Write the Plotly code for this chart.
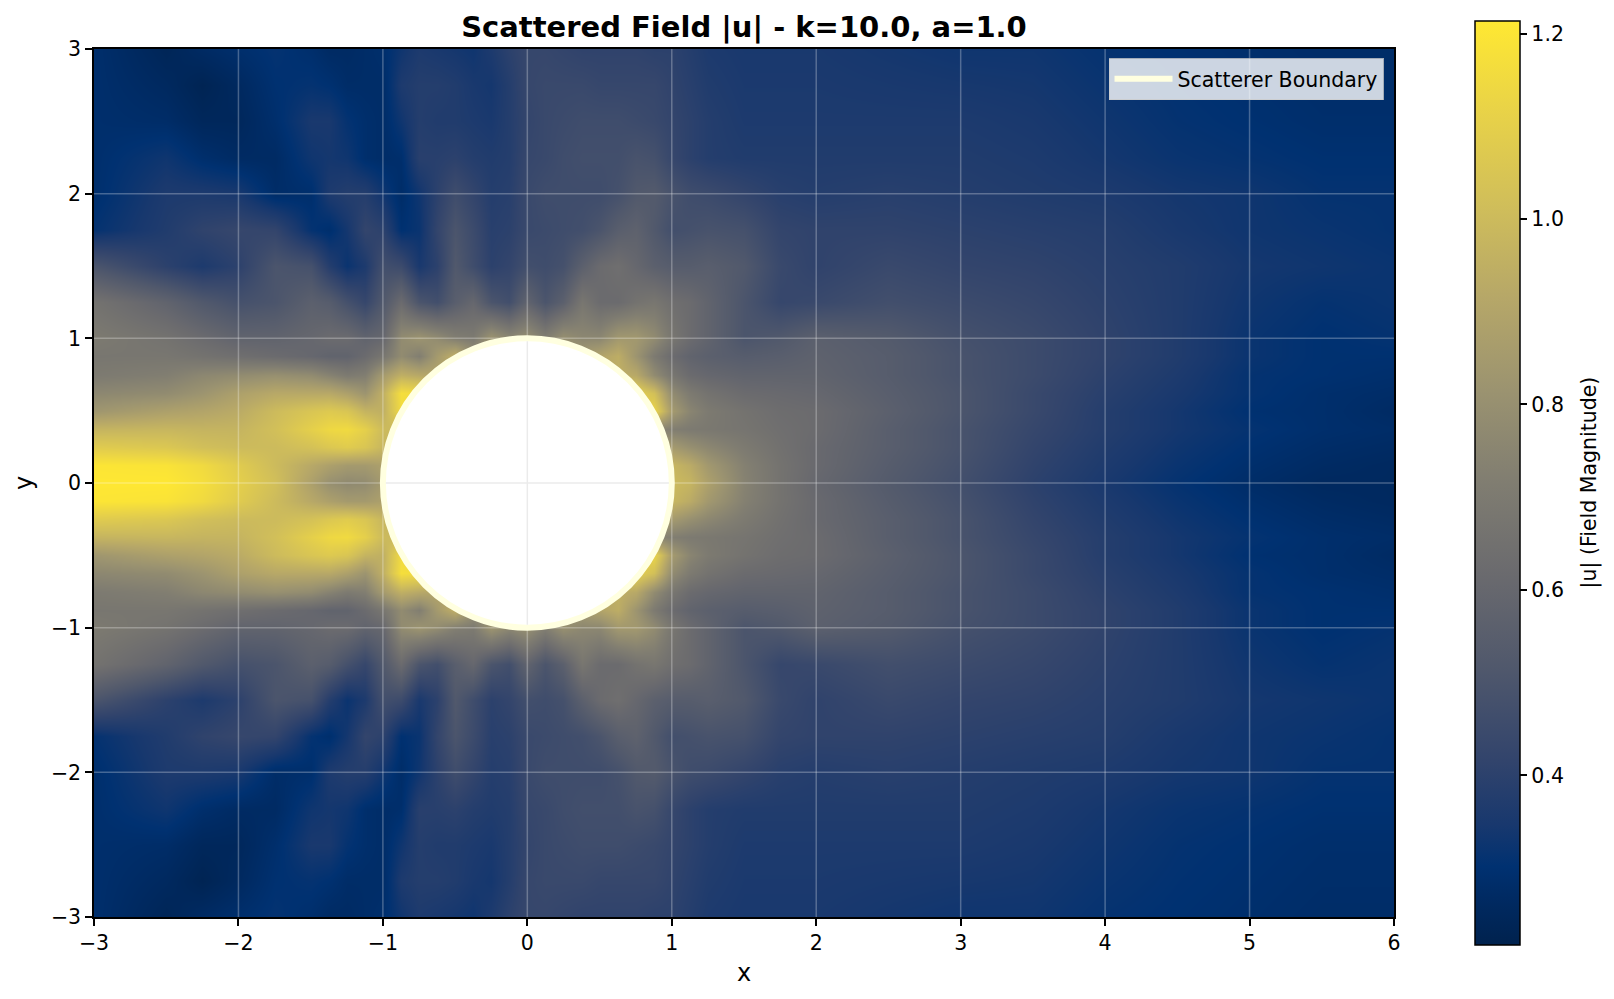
import plotly.graph_objects as go

# Field magnitude (upper half; the field is mirror symmetric about y=0)
x_nodes = [-3, -2.5, -2.25, -2, -1.75, -1.5, -1.375, -1.25, -1.125, -1, -0.875, -0.75, -0.625, -0.5, -0.375, -0.25,
           -0.125, 0, 0.125, 0.25, 0.375, 0.5, 0.625, 0.75, 0.875, 1, 1.125, 1.25, 1.5, 1.75, 2, 2.5, 3, 3.5, 4, 4.5, 5, 5.5, 6]
y_upper = [0, 0.125, 0.25, 0.375, 0.5, 0.625, 0.75, 0.875, 1, 1.25, 1.5, 1.75, 2, 2.25, 2.5, 2.75, 3]

u_y000 = [1.21, 1.21, 1.17, 1.10, 1.02, .88, .80, .77, .78, .85, .90, .90, .90, .90, .90, .90, .90, .90, .90, .90, .90, .90, .92, .95, 1.0, 1.0, .97, .88, .74, .66, .60, .53, .47, .40, .35, .31, .28, .26, .26]
u_y012 = [1.20, 1.19, 1.15, 1.08, 1.00, .92, .88, .85, .85, .88, .90, .90, .90, .90, .90, .90, .90, .90, .90, .90, .90, .90, .90, .92, .97, .98, .93, .84, .73, .66, .61, .54, .48, .41, .36, .32, .29, .27, .26]
u_y025 = [1.08, 1.06, 1.02, 1.00, 1.00, 1.03, 1.06, 1.08, 1.05, .98, .95, .95, .95, .95, .95, .95, .95, .90, .90, .90, .90, .90, .90, .88, .85, .85, .80, .76, .70, .65, .61, .55, .49, .42, .37, .33, .30, .28, .27]
u_y037 = [.97, .98, .97, .97, 1.02, 1.10, 1.14, 1.15, 1.10, 1.00, .98, .98, .98, .98, .95, .95, .95, .90, .90, .90, .90, .90, .85, .80, .76, .72, .70, .69, .67, .64, .62, .55, .49, .43, .38, .34, .31, .29, .28]
u_y050 = [.83, .88, .90, .93, 1.00, 1.05, 1.07, 1.05, .97, .95, 1.15, 1.15, 1.10, 1.05, 1.0, .95, .95, .90, .90, .90, .95, 1.0, 1.05, 1.10, 1.12, .85, .75, .70, .66, .63, .62, .56, .50, .44, .38, .34, .30, .29, .27]
u_y062 = [.76, .78, .82, .88, .92, .92, .92, .88, .82, .95, 1.17, 1.15, 1.10, 1.05, 1.0, .95, .95, .90, .90, .90, .95, 1.0, 1.05, 1.10, 1.02, .78, .70, .66, .62, .61, .60, .55, .50, .44, .39, .35, .31, .29, .28]
u_y075 = [.70, .72, .76, .78, .80, .78, .74, .70, .72, .85, .95, .92, .90, .90, .90, .90, .90, .90, .90, .90, .90, .92, .95, .92, .78, .68, .62, .60, .58, .58, .58, .54, .49, .45, .40, .36, .31, .30, .29]
u_y087 = [.68, .68, .66, .64, .62, .60, .58, .58, .62, .68, .78, .72, .85, .95, .80, .75, .75, .75, .75, .80, .85, .90, .94, .82, .70, .62, .58, .56, .54, .55, .57, .54, .49, .45, .41, .37, .32, .30, .30]
u_y100 = [.70, .66, .62, .58, .58, .60, .62, .62, .58, .60, .78, .82, .78, .72, .70, .82, .76, .80, .72, .80, .76, .76, .84, .84, .78, .68, .62, .58, .50, .52, .56, .53, .48, .45, .41, .37, .32, .30, .31]
u_y125 = [.66, .58, .52, .48, .50, .56, .54, .48, .43, .52, .62, .50, .47, .55, .60, .50, .47, .58, .50, .56, .68, .62, .62, .66, .68, .64, .62, .58, .50, .43, .44, .47, .45, .43, .40, .37, .33, .31, .32]
u_y150 = [.50, .40, .36, .40, .50, .48, .38, .32, .36, .47, .45, .35, .40, .52, .46, .40, .42, .47, .46, .48, .56, .62, .64, .60, .56, .54, .54, .55, .52, .44, .41, .44, .42, .41, .39, .37, .34, .33, .32]
u_y175 = [.31, .37, .41, .43, .42, .31, .29, .34, .42, .40, .30, .32, .42, .50, .45, .39, .40, .44, .45, .46, .47, .50, .55, .57, .52, .47, .48, .49, .48, .42, .41, .41, .40, .39, .38, .35, .33, .32, .31]
u_y200 = [.29, .36, .36, .35, .28, .29, .36, .38, .38, .33, .28, .33, .40, .46, .42, .38, .39, .44, .46, .46, .46, .46, .48, .52, .53, .49, .46, .45, .42, .39, .38, .39, .38, .37, .36, .34, .33, .31, .31]
u_y225 = [.29, .33, .29, .27, .27, .33, .34, .33, .29, .28, .29, .39, .39, .40, .38, .37, .38, .43, .44, .46, .47, .47, .47, .49, .48, .43, .40, .38, .37, .37, .37, .37, .37, .36, .34, .32, .31, .30, .30]
u_y250 = [.29, .28, .25, .25, .29, .35, .35, .31, .29, .28, .33, .38, .37, .37, .36, .35, .38, .42, .44, .45, .46, .46, .46, .45, .44, .42, .40, .38, .36, .36, .36, .36, .36, .35, .33, .31, .30, .29, .29]
u_y275 = [.29, .26, .23, .26, .30, .31, .30, .28, .28, .28, .36, .38, .38, .37, .35, .34, .38, .43, .44, .44, .44, .43, .43, .43, .43, .41, .39, .37, .355, .355, .355, .35, .345, .34, .32, .305, .295, .285, .285]
u_y300 = [.29, .24, .27, .29, .31, .29, .27, .27, .28, .29, .33, .36, .35, .34, .33, .36, .40, .43, .43, .42, .41, .41, .41, .41, .40, .40, .38, .36, .35, .35, .35, .34, .33, .33, .31, .30, .29, .28, .28]

upper_rows = [u_y000, u_y012, u_y025, u_y037, u_y050, u_y062, u_y075, u_y087, u_y100, u_y125, u_y150, u_y175, u_y200, u_y225, u_y250, u_y275, u_y300]

x_ticks = [-3, -2, -1, 0, 1, 2, 3, 4, 5, 6]
y_ticks = [-3, -2, -1, 0, 1, 2, 3]
cbar_ticks = [0.4, 0.6, 0.8, 1.0, 1.2]
z_min, z_max = 0.217, 1.2136
radius = 1.0

y_nodes = [-v for v in reversed(y_upper[1:])] + y_upper
z_rows = list(reversed(upper_rows[1:])) + upper_rows

colorscale = [
    [0.00, "rgb(0,34,78)"], [0.05, "rgb(0,42,98)"], [0.085, "rgb(0,49,113)"], [0.13, "rgb(24,56,110)"],
    [0.20, "rgb(50,68,108)"], [0.30, "rgb(80,88,108)"], [0.40, "rgb(106,106,110)"], [0.50, "rgb(128,125,113)"],
    [0.60, "rgb(155,147,112)"], [0.70, "rgb(182,167,104)"], [0.80, "rgb(208,190,90)"], [0.90, "rgb(232,210,72)"],
    [1.00, "rgb(255,232,50)"],
]

m_l, m_r, m_t, m_b = 94, 219.5, 49, 82
plot_w = 1614 - m_l - m_r
plot_h = 999 - m_t - m_b

fig = go.Figure()
fig.add_trace(go.Heatmap(
    x=x_nodes, y=y_nodes, z=z_rows, zmin=z_min, zmax=z_max, zsmooth="best", colorscale=colorscale,
    showscale=True, showlegend=False,
    colorbar=dict(
        x=(1476 - m_l) / plot_w, xanchor="left", y=(999 - m_b - 945) / plot_h, yanchor="bottom",
        lenmode="pixels", len=924, thicknessmode="pixels", thickness=45, xpad=0, ypad=0,
        outlinecolor="black", outlinewidth=1.5, ticks="outside", ticklen=7, tickwidth=1.5, tickcolor="black",
        tickvals=cbar_ticks, tickformat=".1f", tickfont=dict(size=20.5, color="black"),
    ),
))
# Legend entry only: the ring itself is the circle shape below
fig.add_trace(go.Scatter(x=[None], y=[None], mode="lines", name="Scatterer Boundary",
                         line=dict(color="#ffffe0", width=6), showlegend=True))

shapes = []
grid_line = dict(color="rgba(255,255,255,0.27)", width=1.5)
for t in x_ticks[1:-1]:
    shapes.append(dict(type="line", xref="x", yref="y", x0=t, x1=t, y0=y_ticks[0], y1=y_ticks[-1], line=grid_line, layer="above"))
for t in y_ticks[1:-1]:
    shapes.append(dict(type="line", xref="x", yref="y", x0=x_ticks[0], x1=x_ticks[-1], y0=t, y1=t, line=grid_line, layer="above"))
shapes.append(dict(type="circle", xref="x", yref="y", x0=-radius, x1=radius, y0=-radius, y1=radius,
                   fillcolor="white", line=dict(color="#ffffe0", width=6), layer="above"))
inner = radius - 0.02
inner_line = dict(color="#ebebeb", width=1.5)
shapes.append(dict(type="line", xref="x", yref="y", x0=0, x1=0, y0=-inner, y1=inner, line=inner_line, layer="above"))
shapes.append(dict(type="line", xref="x", yref="y", x0=-inner, x1=inner, y0=0, y1=0, line=inner_line, layer="above"))

axis_common = dict(
    showgrid=False, zeroline=False, showline=True, mirror=True, linecolor="black", linewidth=1.5,
    ticks="outside", ticklen=7, tickwidth=1.5, tickcolor="black", tickfont=dict(size=20.5, color="black"),
)

fig.update_layout(
    width=1614, height=999, margin=dict(l=m_l, r=m_r, t=m_t, b=m_b),
    paper_bgcolor="white", plot_bgcolor="white",
    font=dict(family="DejaVu Sans", color="black"),
    title=dict(text="<b>Scattered Field |u| - k=10.0, a=1.0</b>", font=dict(size=29, color="black"),
               x=744 / 1614, xanchor="center", xref="container", y=1 - 27 / 999, yanchor="middle", yref="container"),
    xaxis=dict(range=[-3, 6], tickvals=x_ticks, title=dict(text="x", font=dict(size=24, color="black"), standoff=10), **axis_common),
    yaxis=dict(range=[-3, 3], tickvals=y_ticks, title=dict(text="y", font=dict(size=24, color="black"), standoff=12), **axis_common),
    legend=dict(x=(1384 - m_l) / plot_w, xanchor="right", y=(999 - m_b - 58) / plot_h, yanchor="top", xref="paper", yref="paper",
                bgcolor="rgba(255,255,255,0.8)", bordercolor="rgba(204,204,204,0.8)", borderwidth=1,
                font=dict(size=20.5, color="black"), itemwidth=58),
    annotations=[dict(text="|u| (Field Magnitude)", textangle=-90, xref="paper", yref="paper",
                      x=(1590 - m_l) / plot_w, y=(999 - m_b - 482) / plot_h, xanchor="center", yanchor="middle",
                      showarrow=False, font=dict(size=20.5, color="black"))],
    shapes=shapes,
)

fig.write_html("out.html", post_script="document.body.style.margin='0';", config={"displayModeBar": False})
